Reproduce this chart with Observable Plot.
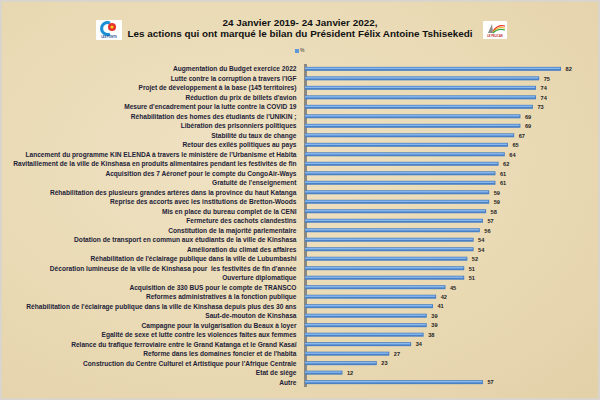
<!DOCTYPE html>
<html><head><meta charset="utf-8">
<script src="https://cdn.jsdelivr.net/npm/d3@7"></script>
<script src="https://cdn.jsdelivr.net/npm/@observablehq/plot@0.6"></script>
<style>
html,body{margin:0;padding:0;}
body{width:600px;height:400px;overflow:hidden;font-family:"Liberation Sans",Arial,sans-serif;}
#page{position:relative;width:596px;height:396px;border:2px solid #d9d5cc;
 background:radial-gradient(ellipse at 40% 40%, #efe2c3 0%, #e9d9b3 60%, #e2d0a8 100%);}
#head{position:relative;height:56px;}
.t{position:absolute;left:0;width:596px;text-align:center;font-weight:bold;font-size:9.9px;color:#111;}
.logo{position:absolute;background:#fff;border-radius:1px;}
.logo span{position:absolute;bottom:1px;left:0;width:100%;text-align:center;font-size:2.6px;font-weight:bold;color:#1d3f8f;}
#leg{position:absolute;top:45px;left:293px;font-size:5px;color:#333;}
#leg i{display:inline-block;width:4px;height:4px;background:#5d97d9;margin-right:1px;vertical-align:middle;}
#chart svg{display:block;}
</style></head>
<body><div id="page">
<div id="head">
 <div class="logo" style="left:94px;top:18px;width:26px;height:20px;">
  <svg width="26" height="16"><path d="M14 3 A6 6 0 1 0 14 14" fill="none" stroke="#1a8fd6" stroke-width="3"/><circle cx="16" cy="7" r="4" fill="#e5312b"/><circle cx="16" cy="7" r="1.6" fill="#f5d21c"/></svg>
  <span>LES POINTS</span></div>
 <div class="logo" style="left:481px;top:19px;width:24px;height:18px;">
  <svg width="24" height="13"><path d="M5 11 L9 2 L10 11 Z" fill="#8a8a8a"/><path d="M10 9 Q15 2 22 4" fill="none" stroke="#e5312b" stroke-width="1.2"/><path d="M10 10 Q15 4 22 6" fill="none" stroke="#f5b21c" stroke-width="1.2"/><path d="M10 11 Q15 6 22 8" fill="none" stroke="#3aa848" stroke-width="1.2"/></svg>
  <span style="color:#b22">LE PELICAN</span></div>
 <div class="t" style="top:15px;">24 Janvier 2019- 24 Janvier 2022,</div>
 <div class="t" style="top:26px;">Les actions qui ont marqué le bilan du Président Félix Antoine Tshisekedi</div>
 <div id="leg"><i></i>%</div>
</div>
<div id="chart"></div>
</div>
<script>
const labels = [
 "Augmentation du Budget exercice 2022",
 "Lutte contre la corruption à travers l'IGF",
 "Projet de développement à la base (145 territoires)",
 "Réduction du prix de billets d'avion",
 "Mesure d'encadrement pour la lutte contre la COVID 19",
 "Réhabilitation des homes des étudiants de l'UNIKIN ;",
 "Libération des prisonniers politiques",
 "Stabilité du taux de change",
 "Retour des exilés politiques au pays",
 "Lancement du programme KIN ELENDA à travers le ministère de l'Urbanisme et Habita",
 "Ravitaillement de la ville de Kinshasa en produits alimentaires pendant les festivités de fin",
 "Acquisition des 7 Aéronef pour le compte du CongoAir-Ways",
 "Gratuité de l'enseignement",
 "Réhabilitation des plusieurs grandes artères dans la province du haut Katanga",
 "Reprise des accorts avec les institutions de Bretton-Woods",
 "Mis en place du bureau complet de la CENI",
 "Fermeture des cachots clandestins",
 "Constitution de la majorité parlementaire",
 "Dotation de transport en commun aux étudiants de la ville de Kinshasa",
 "Amélioration du climat des affaires",
 "Réhabilitation de l'éclairage publique dans la ville de Lubumbashi",
 "Décoration lumineuse de la ville de Kinshasa pour  les festivités de fin d'année",
 "Ouverture diplomatique",
 "Acquisition de 330 BUS pour le compte de TRANSCO",
 "Reformes administratives à la fonction publique",
 "Réhabilitation de l'éclairage publique dans la ville de Kinshasa depuis plus des 30 ans",
 "Saut-de-mouton de Kinshasa",
 "Campagne pour la vulgarisation du Beaux à loyer",
 "Egalité de sexe et lutte contre les violences faites aux femmes",
 "Relance du trafique ferroviaire entre le Grand Katanga et le Grand Kasaï",
 "Reforme dans les domaines foncier et de l'habita",
 "Construction du Centre Culturel et Artistique pour l'Afrique Centrale",
 "Etat de siège",
 "Autre"
];
const values = [82,75,74,74,73,69,69,67,65,64,62,61,61,59,59,58,57,56,54,54,52,51,51,45,42,41,39,39,38,34,27,23,12,57];
const data = labels.map((label, i) => ({label, value: values[i]}));

const chart = Plot.plot({
  width: 596,
  height: 340,
  marginTop: 6,
  marginBottom: 11,
  marginLeft: 303,
  marginRight: 12,
  style: {background: "transparent", fontFamily: "'Liberation Sans', Arial, sans-serif"},
  x: {domain: [0, 90], axis: null},
  y: {domain: labels, padding: 0.58, paddingOuter: 0.3, round: false, axis: null},
  marks: [
    Plot.ruleX([0], {stroke: "#8c8a80", strokeWidth: 3}),
    Plot.barX(data, {y: "label", x: "value", fill: "#4a80c4"}),
    Plot.barX(data, {y: "label", x: "value", fill: "#8ab9ee", insetTop: 0.8, insetBottom: 1.8, insetRight: 1}),
    Plot.text(data, {y: "label", x: 0, text: "label", textAnchor: "end", dx: -9, fontSize: 6.6, fontWeight: "bold", fill: "#1c2238"}),
    Plot.text(data, {y: "label", x: "value", text: d => String(d.value), textAnchor: "start", dx: 4, fontSize: 5.6, fontWeight: "bold", fill: "#222"})
  ]
});
document.getElementById("chart").appendChild(chart);
</script>
</body></html>
